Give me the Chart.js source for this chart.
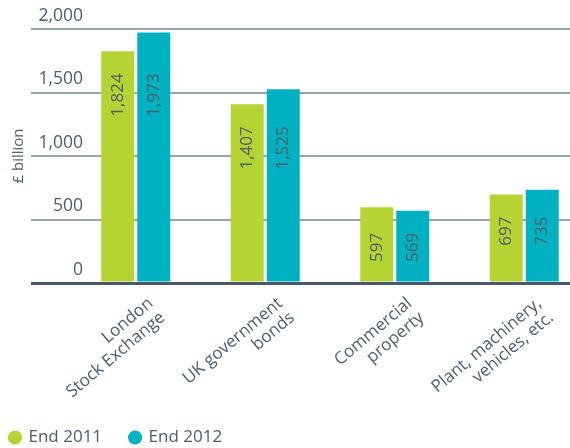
<!DOCTYPE html>
<html>
<head>
<meta charset="utf-8">
<script src="https://cdn.jsdelivr.net/npm/chart.js@4"></script>
<style>
  html, body { margin: 0; padding: 0; background: #fff; overflow: hidden; width: 570px; height: 448px; }
  #wrap { position: absolute; left: -18px; top: 0; width: 607px; height: 456px; }
</style>
</head>
<body>
<div id="wrap"><canvas id="grafico"></canvas></div>
<script>
var categorias = [
  ['London', 'Stock Exchange'],
  ['UK government', 'bonds'],
  ['Commercial', 'property'],
  ['Plant, machinery,', 'vehicles, etc.']
];
var fim2011 = [1824, 1407, 597, 697];
var fim2012 = [1973, 1525, 569, 735];
var yTicks = [0, 500, 1000, 1500, 2000];

var corTexto = '#4e5e6e';
var corGrade = '#98a4ae';
var corBase = '#4a5a69';
var fonte = "'Open Sans', 'DejaVu Sans', sans-serif";

// rotulos dos valores dentro das barras + rotulos do eixo y acima das linhas
var rotulos = {
  id: 'rotulos',
  afterDatasetsDraw: function (chart) {
    var ctx = chart.ctx;
    var metas = [chart.getDatasetMeta(0), chart.getDatasetMeta(1)];
    for (var i = 0; i < categorias.length; i++) {
      var topoBaixo = Math.max(metas[0].data[i].y, metas[1].data[i].y);
      for (var d = 0; d < metas.length; d++) {
        var barra = metas[d].data[i];
        var valor = chart.data.datasets[d].data[i];
        ctx.save();
        ctx.translate(barra.x, topoBaixo + 22);
        ctx.rotate(-Math.PI / 2);
        ctx.font = '17px ' + fonte;
        ctx.fillStyle = corTexto;
        ctx.textAlign = 'right';
        ctx.textBaseline = 'middle';
        ctx.fillText(valor.toLocaleString('en-US'), 0, 0);
        ctx.restore();
      }
    }

    var y = chart.scales.y;
    ctx.save();
    ctx.font = '17.5px ' + fonte;
    ctx.fillStyle = corTexto;
    ctx.textAlign = 'right';
    ctx.textBaseline = 'middle';
    yTicks.forEach(function (v) {
      ctx.fillText(v.toLocaleString('en-US'), chart.chartArea.left + 12, y.getPixelForValue(v) - 13);
    });
    ctx.restore();
  }
};

var ctx = document.getElementById('grafico').getContext('2d');
var chart = new Chart(ctx, {
  type: 'bar',
  data: {
    labels: categorias,
    datasets: [
      {
        label: 'End 2011',
        data: fim2011,
        backgroundColor: '#b6d334',
        borderColor: '#b6d334',
        borderWidth: 0,
        barPercentage: 0.917,
        categoryPercentage: 0.556
      },
      {
        label: 'End 2012',
        data: fim2012,
        backgroundColor: '#00b1c1',
        borderColor: '#00b1c1',
        borderWidth: 0,
        barPercentage: 0.917,
        categoryPercentage: 0.556
      }
    ]
  },
  options: {
    responsive: true,
    maintainAspectRatio: false,
    animation: false,
    layout: { padding: { top: 29 } },
    plugins: {
      tooltip: { enabled: false },
      legend: {
        position: 'bottom',
        align: 'start',
        labels: {
          usePointStyle: true,
          pointStyle: 'circle',
          boxWidth: 10,
          boxHeight: 10,
          padding: 28,
          color: corTexto,
          font: { family: fonte, size: 17 }
        }
      }
    },
    scales: {
      x: {
        afterFit: function (s) { s.height = 118; },
        grid: { display: false, drawTicks: false },
        border: { display: false },
        ticks: {
          autoSkip: false,
          minRotation: 40,
          maxRotation: 40,
          labelOffset: 15,
          padding: 11,
          color: corTexto,
          font: { family: fonte, size: 17, lineHeight: 1.1 }
        }
      },
      y: {
        min: 0,
        max: 2000,
        afterFit: function (s) { s.width = 89; },
        afterBuildTicks: function (s) { s.ticks = yTicks.map(function (v) { return { value: v }; }); },
        border: { display: false },
        grid: {
          drawTicks: true,
          tickLength: 40,
          color: function (c) { return c.tick && c.tick.value === 0 ? corBase : corGrade; },
          tickColor: function (c) { return c.tick && c.tick.value === 0 ? corBase : corGrade; },
          lineWidth: function (c) { return c.tick && c.tick.value === 0 ? 3 : 2; }
        },
        ticks: { display: false },
        title: {
          display: true,
          text: '£ billion',
          color: corTexto,
          padding: { top: 28, bottom: 0 },
          font: { family: fonte, size: 15 }
        }
      }
    }
  },
  plugins: [rotulos]
});
</script>
</body>
</html>
